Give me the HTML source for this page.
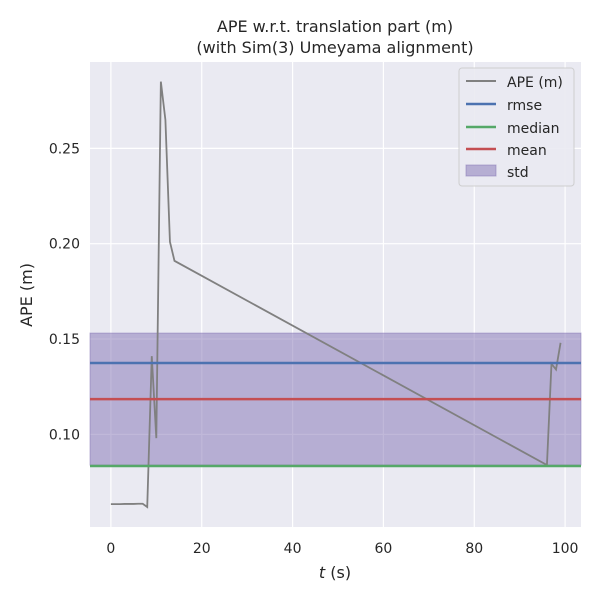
<!DOCTYPE html>
<html><head><meta charset="utf-8"><style>
body{margin:0;background:#fff;}
svg text{font-family:"DejaVu Sans","Liberation Sans",sans-serif;fill:#262626;}
</style></head><body>
<svg id="c" width="600" height="600" xmlns="http://www.w3.org/2000/svg">
<rect x="0" y="0" width="600" height="600" fill="#fff"/>
<rect x="90" y="62" width="491" height="465" fill="#eaeaf2"/>
<g id="grid"></g>
<g id="marks"></g>
<text x="335" y="32" font-size="16" text-anchor="middle">APE w.r.t. translation part (m)</text>
<text x="335" y="53" font-size="16" text-anchor="middle">(with Sim(3) Umeyama alignment)</text>
<text x="335" y="578" font-size="16" text-anchor="middle"><tspan font-style="italic">t</tspan> (s)</text>
<text transform="translate(32,295) rotate(-90)" font-size="16" text-anchor="middle">APE (m)</text>
<g>
<rect x="459" y="68" width="115" height="118" rx="3" fill="#eaeaf2" stroke="#cccccc" opacity="0.9"/>
<line x1="466" y1="81" x2="496" y2="81" stroke="#808080" stroke-width="2"/><text x="507" y="87" font-size="14">APE (m)</text>
<line x1="466" y1="104" x2="496" y2="104" stroke="#4c72b0" stroke-width="2.5"/><text x="507" y="110" font-size="14">rmse</text>
<line x1="466" y1="127" x2="496" y2="127" stroke="#55a868" stroke-width="2.5"/><text x="507" y="133" font-size="14">median</text>
<line x1="466" y1="149" x2="496" y2="149" stroke="#c44e52" stroke-width="2.5"/><text x="507" y="155" font-size="14">mean</text>
<rect x="466" y="165" width="30" height="11" fill="#8172b3" fill-opacity="0.5" stroke="#8172b3" stroke-opacity="0.5"/><text x="507" y="177" font-size="14">std</text>
</g>
</svg>
<script>
const tVals=[0,1,2,3,4,5,6,7,8,9,10,11,12,13,14,96,97,98,99];
const apeVals=[0.0634,0.0634,0.0634,0.0635,0.0635,0.0635,0.0636,0.0636,0.0619,0.141,0.098,0.285,0.265,0.201,0.191,0.0839,0.137,0.134,0.148];
const rmse=0.1374, median=0.0834, mean=0.1185, std=0.0346;
const xTicks=[0,20,40,60,80,100];
const yTicks=[0.10,0.15,0.20,0.25];
const yTickLabels=["0.10","0.15","0.20","0.25"];
const NS="http://www.w3.org/2000/svg";
const X0=90,X1=581,Y0=62,Y1=527,xmin=-4.6,xmax=103.5,ymin=0.0514,ymax=0.2953;
function sx(v){return X0+(v-xmin)/(xmax-xmin)*(X1-X0);}
function sy(v){return Y1-(v-ymin)/(ymax-ymin)*(Y1-Y0);}
function mk(tag,attrs,parent){const e=document.createElementNS(NS,tag);for(const k in attrs)e.setAttribute(k,attrs[k]);parent.appendChild(e);return e;}
const grid=document.getElementById('grid'),marks=document.getElementById('marks'),svg=document.getElementById('c');
xTicks.forEach(t=>{
 const l=mk('line',{x1:sx(t),x2:sx(t),y1:Y0,y2:Y1,stroke:'#fff','stroke-width':1.2},grid);
 
 
 const tx=mk('text',{x:sx(t),y:553,'font-size':14,'text-anchor':'middle'},svg);
 tx.textContent=t;
 
 
});
yTicks.forEach((t,i)=>{
 const l=mk('line',{x1:X0,x2:X1,y1:sy(t),y2:sy(t),stroke:'#fff','stroke-width':1.2},grid);
 
 
 const tx=mk('text',{x:80,y:sy(t)+5,'font-size':14,'text-anchor':'end'},svg);
 tx.textContent=yTickLabels[i];
 
 
});
const band=mk('rect',{x:X0,y:sy(mean+std),width:X1-X0,height:sy(mean-std)-sy(mean+std),fill:'#8172b3','fill-opacity':0.5,stroke:'#8172b3','stroke-opacity':0.5},marks);


const path=mk('polyline',{points:tVals.map((t,i)=>sx(t)+','+sy(apeVals[i])).join(' '),fill:'none',stroke:'#808080','stroke-width':1.8},marks);


[[rmse,'#4c72b0','rmse-line'],[median,'#55a868','median-line'],[mean,'#c44e52','mean-line']].forEach(([v,c,n])=>{
 const l=mk('line',{x1:X0,x2:X1,y1:sy(v),y2:sy(v),stroke:c,'stroke-width':2.5},marks);
 
 
});
</script>
</body></html>
